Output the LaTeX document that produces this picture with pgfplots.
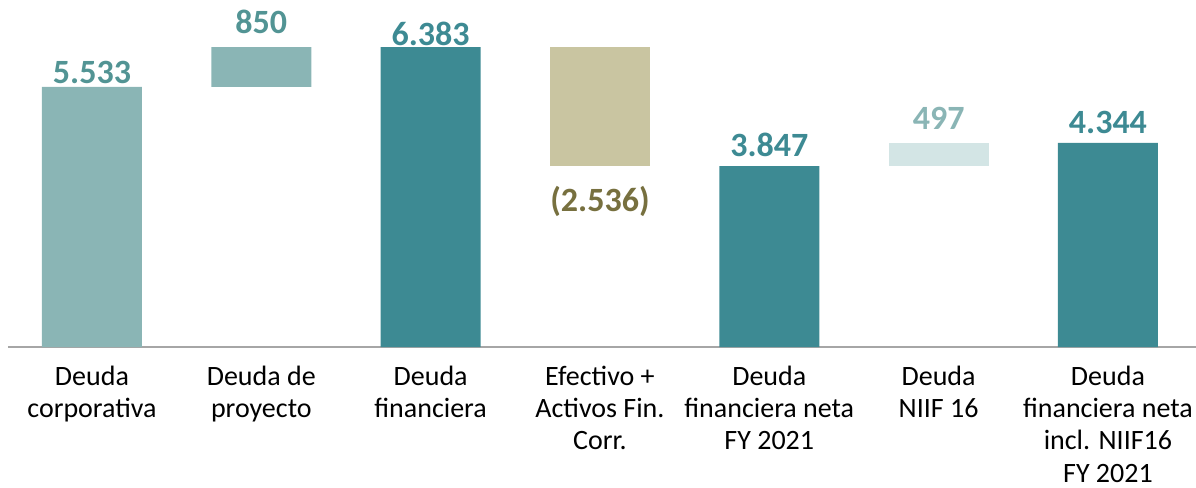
\documentclass[border=0pt]{standalone}
\usepackage{pgfplots}
\pgfplotsset{compat=1.18}
\usepackage{fontspec}
\setmainfont{Carlito}
\definecolor{lteal}{HTML}{8AB5B5}
\definecolor{dteal}{HTML}{3D8A93}
\definecolor{khaki}{HTML}{C9C5A1}
\definecolor{vlteal}{HTML}{D3E5E5}
\definecolor{mteal}{HTML}{529494}
\definecolor{olive}{HTML}{77703F}
\tikzset{vl/.style={font=\fontsize{17}{18}\selectfont\bfseries, inner sep=0pt}}
\begin{document}
\begin{tikzpicture}
\useasboundingbox (-4pt,-70.5pt) rectangle (594pt,173.5pt);
\begin{axis}[
  scale only axis, width=594pt, height=173.5pt,
  xmin=-0.496, xmax=6.52, ymin=0, ymax=7383,
  ybar stacked, bar width=50pt,
  axis x line=bottom, axis y line=none,
  axis line style={-, draw=black!35, line width=0.6pt},
  xtick={0,...,6}, major tick length=0pt,
  xticklabels={{Deuda\\corporativa},{Deuda de\\proyecto},{Deuda\\financiera},{Efectivo +\\Activos Fin.\\Corr.},{Deuda\\financiera neta\\FY 2021},{Deuda\\NIIF 16},{Deuda\\financiera neta\\incl. NIIF16\\FY 2021}},
  xticklabel style={font=\fontsize{14}{16.1}\selectfont, align=center, anchor=north, yshift=-9.3pt, inner sep=0pt, text=black},
  clip=false,
]
\addplot[draw=none, fill=white, fill opacity=0] coordinates {(0,0) (1,5533) (2,0) (3,3847) (4,0) (5,3847) (6,0)};
\addplot[draw=none, fill=lteal] coordinates {(0,5533) (1,850) (2,0) (3,0) (4,0) (5,0) (6,0)};
\addplot[draw=none, fill=dteal] coordinates {(0,0) (1,0) (2,6383) (3,0) (4,3847) (5,0) (6,4344)};
\addplot[draw=none, fill=khaki] coordinates {(0,0) (1,0) (2,0) (3,2536) (4,0) (5,0) (6,0)};
\addplot[draw=none, fill=vlteal] coordinates {(0,0) (1,0) (2,0) (3,0) (4,0) (5,497) (6,0)};
\node[vl, text=mteal] at (axis cs:0,5851) {5.533};
\node[vl, text=mteal] at (axis cs:1,6915) {850};
\node[vl, text=dteal] at (axis cs:2,6660) {6.383};
\node[vl, text=olive] at (axis cs:3,3106) {(2.536)};
\node[vl, text=dteal] at (axis cs:4,4298) {3.847};
\node[vl, text=lteal] at (axis cs:5,4872) {497};
\node[vl, text=dteal] at (axis cs:6,4787) {4.344};
\end{axis}
\end{tikzpicture}
\end{document}
